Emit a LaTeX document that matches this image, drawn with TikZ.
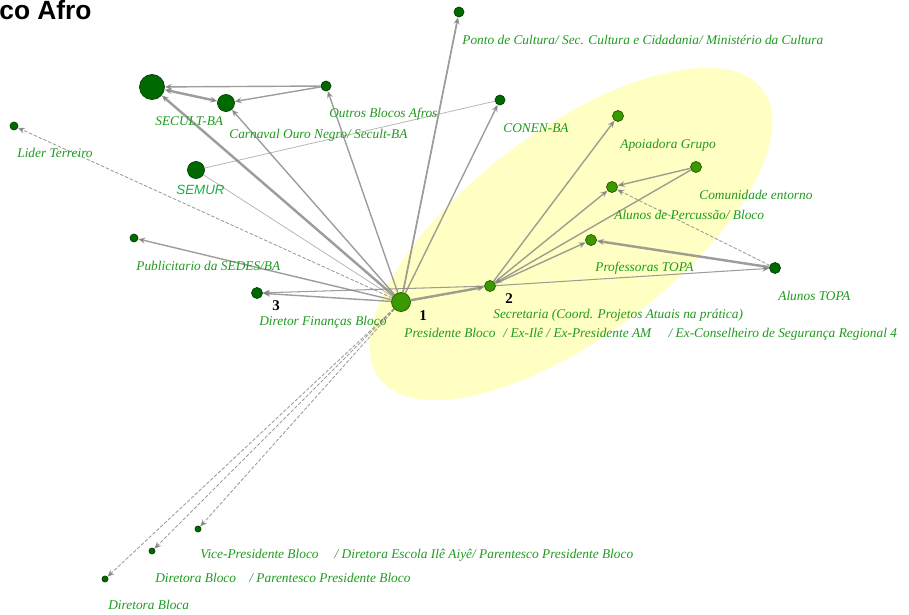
\documentclass[tikz,border=0pt]{standalone}
\usepackage{fontspec}
\setmainfont{Liberation Serif}
\setsansfont{Liberation Sans}
\usetikzlibrary{arrows.meta}

\definecolor{darkgreen}{HTML}{006A00}
\definecolor{midgreen}{HTML}{3A9A00}
\definecolor{textgreen}{HTML}{1E9A1E}
\definecolor{tiegray}{HTML}{858585}
\definecolor{paleyellow}{HTML}{FFFFC4}

\tikzset{
  actor/.style={circle, draw=darkgreen!60!black, fill=darkgreen, inner sep=0pt, minimum size=#1},
  actor/.default=0.2cm,
  member/.style={actor=#1, draw=midgreen!55!black, fill=midgreen},
  member/.default=0.22cm,
  tip/.style={-{Stealth[length=4pt,width=3.4pt]}},
  tie/.style={draw=tiegray, draw opacity=0.8, line width=0.8pt, tip},
  strongtie/.style={tie, line width=1.4pt},
  weaktie/.style={draw=tiegray, draw opacity=0.6, line width=0.45pt},
  kintie/.style={tie, line width=0.5pt, dash pattern=on 2pt off 1pt},
  lbl/.style={anchor=west, inner sep=0pt, text=textgreen, font=\fontsize{7.6}{9}\selectfont\itshape},
  num/.style={inner sep=0pt, font=\fontsize{8.5}{10}\selectfont\bfseries}
}

\begin{document}
\begin{tikzpicture}[x=0.02cm, y=-0.02cm]
  \useasboundingbox (0,0) rectangle (909,615);

  % title
  \node[anchor=base west, inner sep=0pt, font=\sffamily\bfseries\fontsize{15}{17}\selectfont] (title) at (-1,20) {co Afro};

  % group
  \fill[paleyellow, rotate around={37:(571,234)}] (571,234) ellipse [x radius=4.8cm, y radius=2.06cm];

  % actors
  \node[member=0.38cm] (pres) at (401,302) {};
  \node[member] (secr) at (490,286) {};
  \node[actor=0.22cm] (fin) at (257,293) {};
  \node[actor=0.5cm] (secult) at (152,87) {};
  \node[actor=0.34cm] (carnaval) at (226,103) {};
  \node[actor] (outros) at (326,86) {};
  \node[actor] (ponto) at (459,12) {};
  \node[actor] (conen) at (500,100) {};
  \node[actor=0.16cm] (lider) at (14,126) {};
  \node[actor=0.34cm] (semur) at (196,170) {};
  \node[actor=0.16cm] (sedes) at (134,238) {};
  \node[member] (apoio) at (618,116) {};
  \node[member] (comun) at (696,167) {};
  \node[member] (percus) at (612,187) {};
  \node[member] (profs) at (591,240) {};
  \node[actor=0.22cm] (alunos) at (775,268) {};
  \node[actor=0.12cm] (vice) at (198,529) {};
  \node[actor=0.12cm] (dirb) at (152,551) {};
  \node[actor=0.12cm] (dira) at (105,579) {};

  % ties
  \draw[strongtie] (pres) -- (secult);
  \draw[tie] (pres) -- (carnaval);
  \draw[tie] (pres) -- (outros);
  \draw[tie, line width=1pt] (pres) -- (ponto);
  \draw[tie] (pres) -- (conen);
  \draw[weaktie] (semur) -- (pres);
  \draw[weaktie] (semur) -- (conen);
  \draw[tie] (outros) -- (secult);
  \draw[tie] (outros) -- (carnaval);
  \draw[strongtie, {Stealth[length=4pt,width=3.4pt]}-{Stealth[length=4pt,width=3.4pt]}] (secult) -- (carnaval);
  \draw[kintie] (pres) -- (lider);
  \draw[tie] (pres) -- (sedes);
  \draw[tie] (pres) -- (fin);
  \draw[tie, line width=0.6pt] (secr) -- (fin);
  \draw[strongtie] (pres) -- (secr);
  \draw[tie] (secr) -- (apoio);
  \draw[tie] (secr) -- (percus);
  \draw[tie] (secr) -- (profs);
  \draw[tie] (comun) -- (secr);
  \draw[tie] (comun) -- (percus);
  \draw[tie, line width=0.6pt] (secr) -- (alunos);
  \draw[strongtie] (alunos) -- (profs);
  \draw[kintie] (alunos) -- (percus);
  \draw[kintie] (pres) -- (vice);
  \draw[kintie] (pres) -- (dirb);
  \draw[kintie] (pres) -- (dira);

  % labels
  \node[lbl] (lponto) at (462,40) {Ponto de Cultura/ Sec. Cultura e Cidadania/ Ministério da Cultura};
  \node[lbl] (lconen) at (503,128) {CONEN-BA};
  \node[lbl] (lapoio) at (620,145) {Apoiadora Grupo};
  \node[lbl] (lcomun) at (699,195) {Comunidade entorno};
  \node[lbl] (lpercus) at (614,215) {Alunos de Percussão/ Bloco};
  \node[lbl] (lprofs) at (595,268) {Professoras TOPA};
  \node[lbl] (lalunos) at (778,296) {Alunos TOPA};
  \node[lbl] (lsecr) at (493,315) {Secretaria (Coord. Projetos Atuais na prática)};
  \node[lbl] (lpres) at (404,334) {Presidente Bloco\hspace{0.6em}/ Ex-Ilê / Ex-Presidente AM\hspace{1.3em}/ Ex-Conselheiro de Segurança Regional 4};
  \node[lbl] (lfin) at (259,322) {Diretor Finanças Bloco};
  \node[lbl] (lsedes) at (136,266) {Publicitario da SEDES/BA};
  \node[lbl, font=\fontsize{7.6}{9}\selectfont\sffamily\itshape, text=textgreen!80!cyan] (lsemur) at (176,190) {SEMUR};
  \node[lbl] (lsecult) at (155,121) {SECULT-BA};
  \node[lbl] (lcarnaval) at (229,135) {Carnaval Ouro Negro/ Secult-BA};
  \node[lbl] (loutros) at (329,114) {Outros Blocos Afros};
  \node[lbl] (llider) at (17,153) {Lider Terreiro};
  \node[lbl] (lvice) at (200,555) {Vice-Presidente Bloco\hspace{1.2em}/ Diretora Escola Ilê Aiyê/ Parentesco Presidente Bloco};
  \node[lbl] (ldirb) at (155,578) {Diretora Bloco\hspace{1em}/ Parentesco Presidente Bloco};
  \node[lbl] (ldira) at (108,605) {Diretora Bloca};

  % numbers
  \node[num] (one) at (423,316) {1};
  \node[num] (two) at (509,299) {2};
  \node[num] (three) at (276,306) {3};
\end{tikzpicture}
\end{document}
